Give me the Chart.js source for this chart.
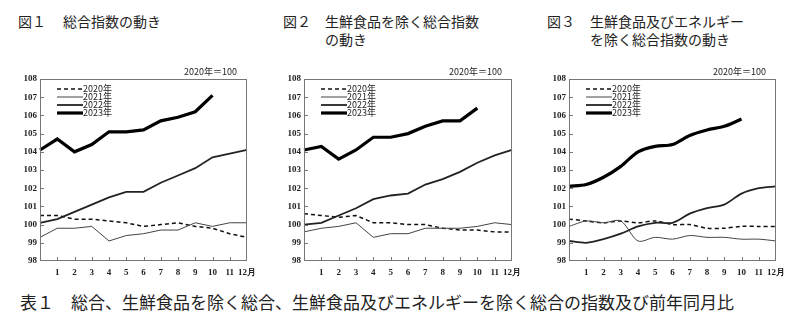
<!DOCTYPE html>
<html>
<head>
<meta charset="utf-8">
<script src="https://cdn.jsdelivr.net/npm/chart.js@4.4.0/dist/chart.umd.min.js"></script>
<style>
  body
  {
    margin: 0;
    width: 800px;
    height: 323px;
    overflow: hidden;
    position: relative;
    background: #fff;
    color: #222;
    font-family: "Noto Sans CJK JP", sans-serif;
  }
  .t { position: absolute; font-size: 14px; line-height: 18px; white-space: nowrap; }
  canvas { position: absolute; top: 60px; }
  .cap { position: absolute; left: 20px; top: 291px; font-size: 17px; line-height: 22px; white-space: nowrap; }
</style>
</head>
<body>
<div class="t" style="left: 18px; top: 12px;">図１</div>
<div class="t" style="left: 63px; top: 12px;">総合指数の動き</div>
<div class="t" style="left: 283px; top: 12px;">図２</div>
<div class="t" style="left: 325px; top: 12px;">生鮮食品を除く総合指数<br>の動き</div>
<div class="t" style="left: 547px; top: 12px;">図３</div>
<div class="t" style="left: 590px; top: 12px;">生鮮食品及びエネルギー<br>を除く総合指数の動き</div>
<canvas id="chart1" width="262" height="225" style="left: 0px;"></canvas>
<canvas id="chart2" width="263" height="225" style="left: 264px;"></canvas>
<canvas id="chart3" width="262" height="225" style="left: 529px;"></canvas>
<div class="cap">表１　総合、生鮮食品を除く総合、生鮮食品及びエネルギーを除く総合の指数及び前年同月比</div>
<script>
// x axis: previous December, then January .. December
const months = ['', '1', '2', '3', '4', '5', '6', '7', '8', '9', '10', '11', '12月'];
const years = ['2020年', '2021年', '2022年', '2023年'];
const unit = '2020年＝100';

// 図1 総合
const all2020 = [100.5, 100.5, 100.3, 100.3, 100.2, 100.1, 99.9, 100.0, 100.1, 99.9, 99.8, 99.5, 99.3];
const all2021 = [99.3, 99.8, 99.8, 99.9, 99.1, 99.4, 99.5, 99.7, 99.7, 100.1, 99.9, 100.1, 100.1];
const all2022 = [100.1, 100.3, 100.7, 101.1, 101.5, 101.8, 101.8, 102.3, 102.7, 103.1, 103.7, 103.9, 104.1];
const all2023 = [104.1, 104.7, 104.0, 104.4, 105.1, 105.1, 105.2, 105.7, 105.9, 106.2, 107.1];

// 図2 生鮮食品を除く総合
const core2020 = [100.6, 100.5, 100.4, 100.5, 100.1, 100.1, 100.0, 100.0, 99.8, 99.7, 99.7, 99.6, 99.6];
const core2021 = [99.6, 99.8, 99.9, 100.1, 99.3, 99.5, 99.5, 99.8, 99.8, 99.8, 99.9, 100.1, 100.0];
const core2022 = [100.0, 100.1, 100.5, 100.9, 101.4, 101.6, 101.7, 102.2, 102.5, 102.9, 103.4, 103.8, 104.1];
const core2023 = [104.1, 104.3, 103.6, 104.1, 104.8, 104.8, 105.0, 105.4, 105.7, 105.7, 106.4];

// 図3 生鮮食品及びエネルギーを除く総合
const cc2020 = [100.3, 100.2, 100.1, 100.2, 100.1, 100.2, 100.0, 100.0, 99.8, 99.8, 99.9, 99.9, 99.9];
const cc2021 = [99.9, 100.2, 100.1, 100.2, 99.1, 99.3, 99.2, 99.4, 99.3, 99.3, 99.2, 99.2, 99.1];
const cc2022 = [99.1, 99.0, 99.2, 99.5, 99.9, 100.1, 100.1, 100.6, 100.9, 101.1, 101.7, 102.0, 102.1];
const cc2023 = [102.1, 102.2, 102.6, 103.2, 104.0, 104.3, 104.4, 104.9, 105.2, 105.4, 105.8];

const yMin = 98;
const yMax = 108;

// line look per year
const looks =
[
  {borderColor: '#111', borderWidth: 1.5, borderDash: [4, 3]},
  {borderColor: '#444', borderWidth: 1},
  {borderColor: '#222', borderWidth: 1.8},
  {borderColor: '#000', borderWidth: 3.2}
];

// {{{ frame plugin: box, inner ticks, unit note, legend
const frame =
{
  id: 'frame',
  afterDatasetsDraw(chart)
  {
    let ctx = chart.ctx;
    let a = chart.chartArea;
    let x = chart.scales.x;
    let y = chart.scales.y;
    ctx.save();
    ctx.strokeStyle = '#777';
    ctx.lineWidth = 1;
    ctx.setLineDash([]);
    ctx.strokeRect(a.left + 0.5, a.top + 0.5, a.right - a.left - 1, a.bottom - a.top - 1);
    ctx.beginPath();
    for (let v = yMin + 1; v < yMax; v++)
    {
      let py = Math.round(y.getPixelForValue(v)) + 0.5;
      ctx.moveTo(a.left, py);
      ctx.lineTo(a.left + 4, py);
    }
    for (let i = 1; i < months.length - 1; i++)
    {
      let px = Math.round(x.getPixelForValue(i)) + 0.5;
      ctx.moveTo(px, a.bottom);
      ctx.lineTo(px, a.bottom - 4);
    }
    ctx.stroke();
    ctx.fillStyle = '#222';
    ctx.font = '9px "Noto Sans CJK JP"';
    ctx.textAlign = 'right';
    ctx.textBaseline = 'alphabetic';
    ctx.fillText(unit, a.right - 10, a.top - 4);
    ctx.textAlign = 'left';
    ctx.textBaseline = 'middle';
    chart.data.datasets.forEach((d, i) =>
    {
      let ly = a.top + 10 + i * 8;
      ctx.beginPath();
      ctx.strokeStyle = d.borderColor;
      ctx.lineWidth = d.borderWidth;
      ctx.setLineDash(d.borderDash || []);
      ctx.moveTo(a.left + 17, ly);
      ctx.lineTo(a.left + 43, ly);
      ctx.stroke();
      ctx.setLineDash([]);
      ctx.fillText(d.label, a.left + 43, ly);
    });
    ctx.restore();
  }
};
// }}}

// {{{ makeChart()
function makeChart(id, series, tension)
{
  let tickFont = {family: '"Liberation Serif", serif', size: 9, weight: 'bold'};
  return new Chart(document.getElementById(id),
  {
    type: 'line',
    data:
    {
      labels: months,
      datasets: series.map((d, i) => Object.assign({label: years[i], data: d, order: 3 - i}, looks[i]))
    },
    options:
    {
      responsive: false,
      animation: false,
      layout: {padding: {top: 19, right: 15, left: 0, bottom: 0}},
      elements: {point: {radius: 0}, line: {tension: tension}},
      plugins: {legend: {display: false}, tooltip: {enabled: false}},
      scales:
      {
        x:
        {
          offset: false,
          grid: {display: false, drawTicks: false},
          border: {display: false},
          ticks: {autoSkip: false, maxRotation: 0, padding: 6, color: '#222', font: tickFont},
          afterFit: (s) => { s.height = 24; }
        },
        y:
        {
          min: yMin,
          max: yMax,
          grid: {display: false, drawTicks: false},
          border: {display: false},
          ticks: {stepSize: 1, padding: 3, color: '#222', font: tickFont},
          afterFit: (s) => { s.width = 40; }
        }
      }
    },
    plugins: [frame]
  });
}
// }}}

makeChart('chart1', [all2020, all2021, all2022, all2023], 0);
makeChart('chart2', [core2020, core2021, core2022, core2023], 0);
makeChart('chart3', [cc2020, cc2021, cc2022, cc2023], 0.3);
</script>
</body>
</html>
